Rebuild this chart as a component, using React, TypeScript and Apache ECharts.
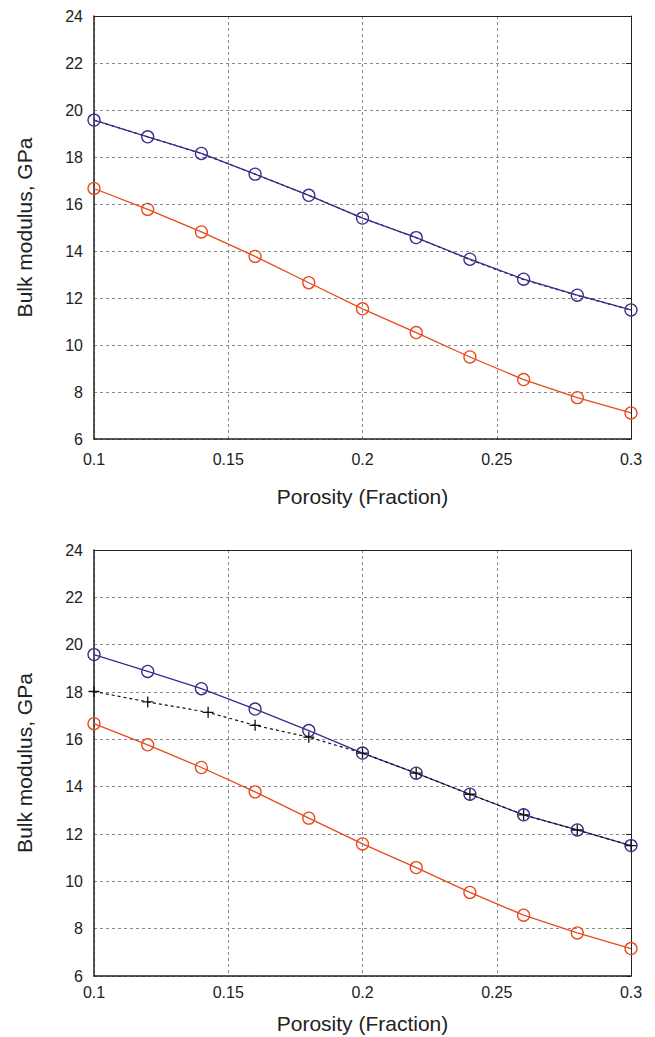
import React, { useEffect, useRef } from "react";
import * as echarts from "echarts";

const porosity = [0.1, 0.12, 0.14, 0.16, 0.18, 0.2, 0.22, 0.24, 0.26, 0.28, 0.3];
const topUpper = [19.57, 18.86, 18.15, 17.27, 16.37, 15.4, 14.57, 13.65, 12.8, 12.12, 11.49];
const topModel = [19.57, 18.86, 18.15, 17.27, 16.37, 15.4, 14.57, 13.63, 12.78, 12.11, 11.49];
const topLower = [16.66, 15.77, 14.81, 13.77, 12.65, 11.54, 10.53, 9.49, 8.53, 7.76, 7.11];
const bottomUpper = [19.58, 18.87, 18.14, 17.28, 16.37, 15.42, 14.57, 13.68, 12.81, 12.17, 11.51];
const bottomLower = [16.66, 15.77, 14.81, 13.78, 12.67, 11.58, 10.58, 9.53, 8.57, 7.82, 7.16];
const bottomModelX = [0.1, 0.12, 0.1425, 0.16, 0.18, 0.2, 0.22, 0.24, 0.26, 0.28, 0.3];
const bottomModelY = [18.02, 17.58, 17.14, 16.59, 16.09, 15.42, 14.57, 13.68, 12.81, 12.17, 11.51];

const xTicks = [0.1, 0.15, 0.2, 0.25, 0.3];
const yTicks = [6, 8, 10, 12, 14, 16, 18, 20, 22, 24];

const xTitle = "Porosity (Fraction)";
const yTitle = "Bulk modulus, GPa";

const BLUE = "#3b2c8c";
const RED = "#e8491d";
const FONT = "Liberation Sans, Arial, sans-serif";

const pairs = (xs: number[], ys: number[]) => xs.map((x, i) => [x, ys[i]]);

const PLUS = "path://M4.4,0 H5.6 V4.4 H10 V5.6 H5.6 V10 H4.4 V5.6 H0 V4.4 H4.4 Z";

export default function App() {
  const ref = useRef<HTMLDivElement>(null);
  useEffect(() => {
    if (!ref.current) return;
    const chart = echarts.init(ref.current, undefined, { renderer: "svg" });
    const grids = [
      { left: 94, top: 16, width: 537, height: 423 },
      { left: 94, top: 550, width: 537, height: 426 },
    ];
    const xAxes: any[] = [];
    const yAxes: any[] = [];
    const xGaps = [12, 8];
    const xNameGaps = [47, 37];
    grids.forEach((_, g) => {
      xAxes.push({
        type: "value",
        gridIndex: g,
        min: xTicks[0],
        max: xTicks[xTicks.length - 1],
        interval: 0.05,
        position: "bottom",
        name: xTitle,
        nameLocation: "middle",
        nameGap: xNameGaps[g],
        nameTextStyle: { fontFamily: FONT, fontSize: 21, color: "#222" },
        axisLine: { show: true, lineStyle: { color: "#222", width: 1.5 } },
        axisTick: { show: false },
        axisLabel: {
          fontFamily: FONT,
          fontSize: 16,
          color: "#222",
          margin: xGaps[g],
          formatter: (v: number) => String(parseFloat(v.toFixed(2))),
        },
        splitLine: { show: true, lineStyle: { type: [3, 3], color: "#8a8a8a", width: 1 } },
      });
      xAxes.push({
        type: "value",
        gridIndex: g,
        min: 0.1,
        max: 0.3,
        interval: 0.05,
        position: "top",
        axisLine: { show: true, lineStyle: { color: "#222", width: 1 } },
        axisTick: { show: false },
        axisLabel: { show: false },
        splitLine: { show: false },
      });
      yAxes.push({
        type: "value",
        gridIndex: g,
        min: yTicks[0],
        max: yTicks[yTicks.length - 1],
        interval: 2,
        position: "left",
        name: yTitle,
        nameLocation: "middle",
        nameGap: 59,
        nameTextStyle: { fontFamily: FONT, fontSize: 21, color: "#222" },
        axisLine: { show: true, lineStyle: { color: "#222", width: 1.5 } },
        axisTick: { show: false },
        axisLabel: { fontFamily: FONT, fontSize: 16, color: "#222", margin: 11 },
        splitLine: { show: true, lineStyle: { type: [3, 3], color: "#8a8a8a", width: 1 } },
      });
      yAxes.push({
        type: "value",
        gridIndex: g,
        min: 6,
        max: 24,
        interval: 2,
        position: "right",
        axisLine: { show: true, lineStyle: { color: "#222", width: 1 } },
        axisTick: { show: true, inside: true, length: 5, lineStyle: { color: "#222" } },
        axisLabel: { show: false },
        splitLine: { show: false },
      });
    });

    const circle = (name: string, color: string, data: number[][], g: number, z: number) => ({
      name,
      type: "line",
      xAxisIndex: g * 2,
      yAxisIndex: g * 2,
      data,
      symbol: "circle",
      symbolSize: 12,
      showSymbol: true,
      lineStyle: { color, width: 1.3 },
      itemStyle: { color: "rgba(255,255,255,0)", borderColor: color, borderWidth: 1.3 },
      z,
    });

    chart.setOption({
      animation: false,
      backgroundColor: "#ffffff",
      grid: grids,
      xAxis: xAxes,
      yAxis: yAxes,
      series: [
        {
          name: "model-top",
          type: "line",
          xAxisIndex: 0,
          yAxisIndex: 0,
          data: pairs(porosity, topModel),
          symbol: "none",
          lineStyle: { color: "#111", width: 1.2, type: [3, 3] },
          z: 1,
        },
        circle("upper-top", BLUE, pairs(porosity, topUpper), 0, 2),
        circle("lower-top", RED, pairs(porosity, topLower), 0, 2),
        circle("upper-bottom", BLUE, pairs(porosity, bottomUpper), 1, 2),
        circle("lower-bottom", RED, pairs(porosity, bottomLower), 1, 2),
        {
          name: "model-bottom",
          type: "line",
          xAxisIndex: 2,
          yAxisIndex: 2,
          data: pairs(bottomModelX, bottomModelY),
          symbol: PLUS,
          symbolSize: 11,
          showSymbol: true,
          itemStyle: { color: "#111" },
          lineStyle: { color: "#111", width: 1.2, type: [3, 3] },
          z: 3,
        },
      ],
    });
    return () => chart.dispose();
  }, []);
  return (
    <div
      ref={ref}
      style={{ position: "absolute", left: 0, top: 0, width: 655, height: 1037, background: "#fff" }}
    />
  );
}
